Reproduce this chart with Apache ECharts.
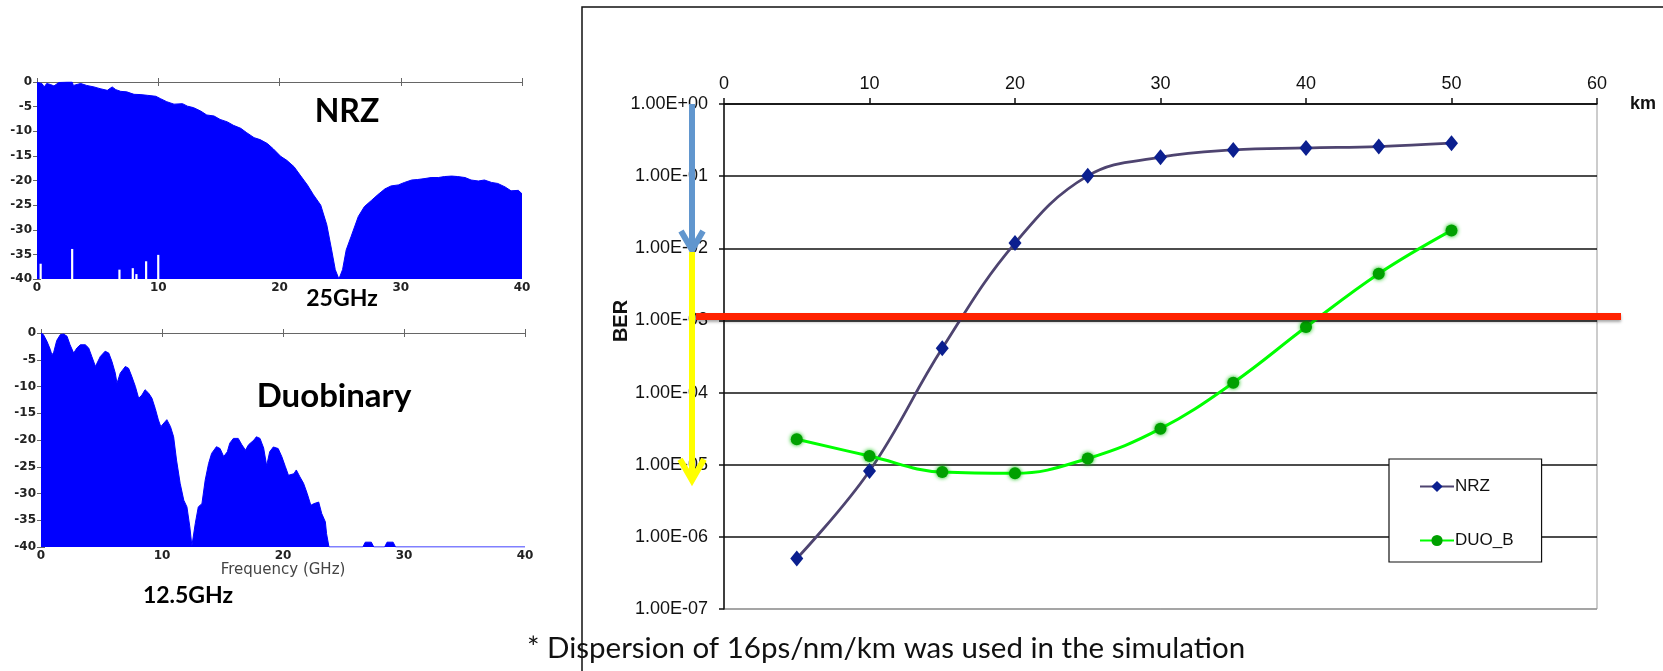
<!DOCTYPE html>
<html><head><meta charset="utf-8">
<script src="https://cdn.jsdelivr.net/npm/echarts@6/dist/echarts.min.js"></script>
<style>html,body{margin:0;padding:0;background:#fff}#c{width:1663px;height:671px}</style>
</head><body><div id="c"></div>
<script>
// ---------- main BER chart data ----------
const distanceKm = [5, 10, 15, 20, 25, 30, 35, 40, 45, 50];
const berNRZ = [5.0e-7, 8.2e-6, 4.1e-4, 1.18e-2, 0.101, 0.183, 0.231, 0.246, 0.257, 0.286];
const berDUO = [2.25e-5, 1.32e-5, 7.9e-6, 7.6e-6, 1.22e-5, 3.16e-5, 1.37e-4, 8.1e-4, 4.45e-3, 1.77e-2];
const seriesNames = ['NRZ', 'DUO_B'];
const berTickLabels = ['1.00E+00', '1.00E-01', '1.00E-02', '1.00E-03', '1.00E-04', '1.00E-05', '1.00E-06', '1.00E-07'];
const berThreshold = 1.13e-3;
const arrowBlueBER = [1, 0.0095];
const arrowYellowBER = [0.0089, 6.1e-6];

// ---------- spectrum panels ----------
const nrzFreq = [0, 0.4, 0.6, 0.8, 1.1, 1.4, 1.8, 2.5, 2.9, 3.0, 3.6, 4.1, 4.7, 5.2, 5.8, 6.2, 6.5, 6.9, 7.4, 8.0,
  8.5, 9.1, 9.8, 10.2, 10.7, 11.3, 12.0, 12.4, 12.9, 13.5, 14.0, 14.6, 15.1, 15.7, 16.2, 16.8, 17.3, 17.9, 18.4, 19.0,
  19.5, 20.1, 20.6, 21.2, 21.7, 22.3, 22.8, 23.4, 23.9, 24.3, 24.6, 24.9, 25.2, 25.5, 25.9, 26.5, 27.0, 27.6, 28.1, 28.7,
  29.2, 29.8, 30.3, 30.9, 31.4, 32.0, 32.5, 33.1, 33.6, 34.2, 34.7, 35.3, 35.8, 36.4, 36.9, 37.5, 38.0, 38.6, 39.1, 39.7, 40];
const nrzDb = [-0.1, -0.3, -1.0, -0.3, -0.5, -0.8, -0.1, 0, 0, -0.7, -0.3, -0.7, -1.0, -1.35, -1.7, -1.0, -1.55, -1.9, -2.0, -2.5,
  -2.55, -2.7, -2.9, -3.4, -4.0, -4.5, -4.4, -4.9, -5.2, -5.9, -6.7, -6.9, -7.6, -8.1, -8.8, -9.4, -10.3, -11.3, -11.7, -12.5,
  -13.6, -15.1, -15.9, -17.2, -18.9, -20.9, -22.9, -25.0, -29.0, -34.1, -38.1, -40, -38.1, -34.1, -31.4, -27.3, -25.3, -24.0, -22.9, -21.7,
  -21.1, -20.9, -20.4, -19.9, -19.8, -19.6, -19.4, -19.4, -19.2, -19.1, -19.2, -19.4, -19.9, -20.1, -19.9, -20.4, -20.6, -21.3, -22.1, -22.0, -22.7];
const nrzGapFreq = [0.3, 2.9, 6.8, 7.9, 8.2, 9.0, 10.0];
const nrzGapTop = [-36.9, -33.9, -38.1, -37.8, -39.0, -36.4, -35.1];

const duoFreq = [0, 0.2, 0.5, 0.77, 0.9, 1.05, 1.3, 1.6, 1.87, 2.15, 2.4, 2.7, 2.97, 3.25, 3.66, 3.94, 4.2, 4.5, 4.9, 5.3,
  5.6, 5.86, 6.14, 6.28, 6.55, 6.97, 7.24, 7.5, 7.8, 8.07, 8.34, 8.6, 8.9, 9.17, 9.44, 9.7, 9.9, 10.4, 10.7, 10.96,
  11.2, 11.5, 11.8, 12.06, 12.3, 12.47, 12.75, 13.0, 13.3, 13.57, 13.85, 14.1, 14.5, 14.8, 15.1, 15.4, 15.6, 15.9, 16.3, 16.6,
  16.9, 17.15, 17.6, 17.8, 18.1, 18.4, 18.65, 18.9, 19.2, 19.6, 19.9, 20.2, 20.45, 20.9, 21.1, 21.4, 21.7, 22.0, 22.3, 22.55,
  22.95, 23.2, 23.5, 23.6, 23.8, 26.6, 26.8, 27.3, 27.5, 28.4, 28.6, 29.1, 29.3, 40];
const duoDb = [0, -0.3, -1.6, -3.1, -4.1, -3.6, -1.4, -0.3, -0.2, -0.6, -2.2, -3.75, -2.8, -2.2, -2.2, -2.8, -4.4, -6.25, -4.4, -3.4,
  -3.75, -5.3, -7.5, -9.4, -7.5, -6.25, -6.6, -8.1, -10, -12.2, -11.6, -10.6, -11.25, -12.2, -14.1, -16.25, -17.5, -16.2, -17.5, -19.4,
  -23.75, -28.1, -31.25, -32.5, -36.25, -39.8, -35.6, -32.5, -31.9, -27.5, -24.4, -22.5, -21.25, -21.6, -23.1, -22.2, -20.6, -19.7, -19.7, -20.9,
  -21.9, -20.9, -20.0, -19.4, -19.7, -21.5, -24.8, -22.2, -21.3, -21.6, -23.1, -25, -26.6, -26.3, -25.6, -26.9, -28.1, -30, -32.2, -31.9,
  -31.6, -33.75, -35.3, -37.5, -40, -40, -39.1, -39.1, -40, -40, -39.1, -39.1, -40, -40];

const pairs = (xs, ys) => xs.map((x, i) => [x, ys[i]]);
const ARIAL = 'Liberation Sans, Arial, sans-serif';
const CALIBRI = 'Lato, Carlito, sans-serif';
const SMALL = 'DejaVu Sans, sans-serif';

const chart = echarts.init(document.getElementById('c'), null, { renderer: 'canvas' });

function smallX(grid, pos, showLabels, name) {
  return {
    gridIndex: grid, type: 'value', position: pos, min: 0, max: 40, interval: 10,
    axisLine: { lineStyle: { color: '#666', width: 1 } },
    axisTick: { inside: true, length: 4, lineStyle: { color: '#666' } },
    axisLabel: { show: showLabels, fontSize: 12, fontWeight: 'bold', fontFamily: SMALL, color: '#222', margin: 3 },
    splitLine: { show: false },
    name: name || '', nameLocation: 'middle', nameGap: 14,
    nameTextStyle: { fontSize: 15, fontFamily: SMALL, color: '#444', verticalAlign: 'top' }
  };
}
function smallY(grid, pos, showLabels) {
  return {
    gridIndex: grid, type: 'value', position: pos, min: -40, max: 0, interval: 5,
    axisLine: { show: true, lineStyle: { color: '#666', width: 1 } },
    axisTick: { show: true, inside: true, length: 4, lineStyle: { color: '#666' } },
    axisLabel: { show: showLabels, fontSize: 12, fontWeight: 'bold', fontFamily: SMALL, color: '#222', margin: 5 },
    splitLine: { show: false }
  };
}

const option = {
  animation: false,
  backgroundColor: '#fff',
  grid: [
    { left: 724, top: 104, width: 873, height: 505, show: true, borderColor: '#999', borderWidth: 1, backgroundColor: 'transparent' },
    { left: 37, top: 82, width: 485, height: 197 },
    { left: 41, top: 333, width: 484, height: 214 }
  ],
  xAxis: [
    {
      gridIndex: 0, type: 'value', position: 'top', min: 0, max: 60, interval: 10,
      axisLine: { lineStyle: { color: '#111', width: 1.5 } },
      axisTick: { inside: false, length: 6, lineStyle: { color: '#111', width: 1.5 } },
      axisLabel: { fontSize: 18, fontFamily: ARIAL, color: '#111', margin: 11 },
      splitLine: { show: false },
      name: 'km', nameLocation: 'end', nameGap: 33,
      nameTextStyle: { fontSize: 18, fontWeight: 'bold', fontFamily: ARIAL, color: '#111', padding: [0, 0, 20, 0] }
    },
    smallX(1, 'bottom', true),
    smallX(1, 'top', false),
    smallX(2, 'bottom', true, 'Frequency (GHz)'),
    smallX(2, 'top', false)
  ],
  yAxis: [
    {
      gridIndex: 0, type: 'log', logBase: 10, min: 1e-7, max: 1,
      axisLine: { show: true, lineStyle: { color: '#111', width: 1.5 } },
      axisTick: { show: true, inside: false, length: 5, lineStyle: { color: '#111', width: 1.5 } },
      axisLabel: {
        fontSize: 18, fontFamily: ARIAL, color: '#111', margin: 16,
        formatter: v => berTickLabels[Math.round(-Math.log10(v))] || ''
      },
      splitLine: { show: true, lineStyle: { color: ['#999', '#111', '#111', '#111', '#111', '#111', '#111', '#111'], width: 1.5 } },
      minorTick: { show: false }
    },
    smallY(1, 'left', true),
    smallY(1, 'right', false),
    smallY(2, 'left', true),
    smallY(2, 'right', false)
  ],
  legend: {
    data: seriesNames,
    orient: 'vertical', left: 1389, top: 459,
    padding: [19, 28, 13, 30], itemGap: 37, itemWidth: 34, itemHeight: 14,
    borderColor: '#111', borderWidth: 1.2, backgroundColor: '#fff',
    textStyle: { fontSize: 17, fontFamily: ARIAL, color: '#111', padding: [0, 0, 0, -4] },
    z: 10
  },
  series: [
    {
      name: 'nrzSpectrum', type: 'line', xAxisIndex: 1, yAxisIndex: 1,
      data: pairs(nrzFreq, nrzDb), symbol: 'none',
      lineStyle: { color: '#0000FF', width: 1 },
      areaStyle: { color: '#0000FF', opacity: 1, origin: 'start' }
    },
    {
      name: 'nrzGaps', type: 'custom', xAxisIndex: 1, yAxisIndex: 1, z: 3,
      data: pairs(nrzGapFreq, nrzGapTop),
      renderItem: (params, api) => {
        const f = api.value(0), t = api.value(1);
        const p1 = api.coord([f - 0.09, t]);
        const p2 = api.coord([f + 0.09, -40]);
        return { type: 'rect', shape: { x: p1[0], y: p1[1], width: p2[0] - p1[0], height: p2[1] - p1[1] }, style: { fill: '#fff' } };
      }
    },
    {
      name: 'duoSpectrum', type: 'line', xAxisIndex: 3, yAxisIndex: 3,
      data: pairs(duoFreq, duoDb), symbol: 'none',
      lineStyle: { color: '#0000FF', width: 1 },
      areaStyle: { color: '#0000FF', opacity: 1, origin: 'start' }
    },
    {
      name: seriesNames[0], type: 'line', xAxisIndex: 0, yAxisIndex: 0,
      data: pairs(distanceKm, berNRZ), smooth: 0.4,
      symbol: 'diamond', symbolSize: [13, 16],
      lineStyle: { color: '#4E4470', width: 2.8 },
      itemStyle: { color: '#0B1F8F', borderWidth: 0 },
      z: 4
    },
    {
      name: seriesNames[1], type: 'line', xAxisIndex: 0, yAxisIndex: 0,
      data: pairs(distanceKm, berDUO), smooth: 0.4,
      symbol: 'circle', symbolSize: 12,
      lineStyle: { color: '#00FF00', width: 3 },
      itemStyle: { color: '#00A000', borderWidth: 0, shadowBlur: 4, shadowColor: '#00C000' },
      z: 5
    }
  ]
};
chart.setOption(option);

// ---------- annotations placed through the axes ----------
const g0 = option.grid[0];
const yAt = v => chart.convertToPixel({ yAxisIndex: 0 }, v);
const arrowX = g0.left - 32;
const yb0 = yAt(arrowBlueBER[0]), yb1 = yAt(arrowBlueBER[1]);
const yy0 = yAt(arrowYellowBER[0]), yy1 = yAt(arrowYellowBER[1]);
const yRed = yAt(berThreshold);
const BLUE = '#6196CE', YEL = '#FFFF00';

chart.setOption({
  graphic: [
    { type: 'rect', silent: true, z: 0, shape: { x: 582, y: 7, width: 1300, height: 900 }, style: { fill: null, stroke: '#111', lineWidth: 1.5 } },
    { type: 'text', silent: true, x: 347, y: 112, style: { text: 'NRZ', font: 'bold 32px ' + CALIBRI, fill: '#000', align: 'center', verticalAlign: 'middle' } },
    { type: 'text', silent: true, x: 342, y: 299, style: { text: '25GHz', font: 'bold 23px ' + CALIBRI, fill: '#000', align: 'center', verticalAlign: 'middle' } },
    { type: 'text', silent: true, x: 334, y: 396, style: { text: 'Duobinary', font: 'bold 33px ' + CALIBRI, fill: '#000', align: 'center', verticalAlign: 'middle' } },
    { type: 'text', silent: true, x: 188, y: 596, style: { text: '12.5GHz', font: 'bold 23px ' + CALIBRI, fill: '#000', align: 'center', verticalAlign: 'middle' } },
    { type: 'text', silent: true, x: 527, y: 648, style: { text: '* Dispersion of 16ps/nm/km was used in the simulation', font: '29.5px ' + CALIBRI, fill: '#111', align: 'left', verticalAlign: 'middle' } },
    { type: 'text', silent: true, x: 621, y: 321, rotation: Math.PI / 2, style: { text: 'BER', font: 'bold 20px ' + ARIAL, fill: '#111', align: 'center', verticalAlign: 'middle' } },
    // red BER threshold line
    { type: 'line', silent: true, z: 50, shape: { x1: arrowX + 4, y1: yRed, x2: g0.left + g0.width + 24, y2: yRed }, style: { stroke: '#FF2200', lineWidth: 7, shadowBlur: 3, shadowColor: 'rgba(0,0,0,0.35)', shadowOffsetY: 2 } },
    // blue arrow
    { type: 'line', silent: true, z: 60, shape: { x1: arrowX, y1: yb0, x2: arrowX, y2: yb1 - 3 }, style: { stroke: BLUE, lineWidth: 6 } },
    { type: 'polyline', silent: true, z: 60, shape: { points: [[arrowX - 11, yb1 - 19], [arrowX, yb1], [arrowX + 11, yb1 - 19]] }, style: { stroke: BLUE, lineWidth: 6, fill: null } },
    // yellow arrow
    { type: 'line', silent: true, z: 60, shape: { x1: arrowX, y1: yy0, x2: arrowX, y2: yy1 - 3 }, style: { stroke: YEL, lineWidth: 6 } },
    { type: 'polyline', silent: true, z: 60, shape: { points: [[arrowX - 12, yy1 - 21], [arrowX, yy1], [arrowX + 12, yy1 - 21]] }, style: { stroke: YEL, lineWidth: 6, fill: null } }
  ]
});
</script>
</body></html>
